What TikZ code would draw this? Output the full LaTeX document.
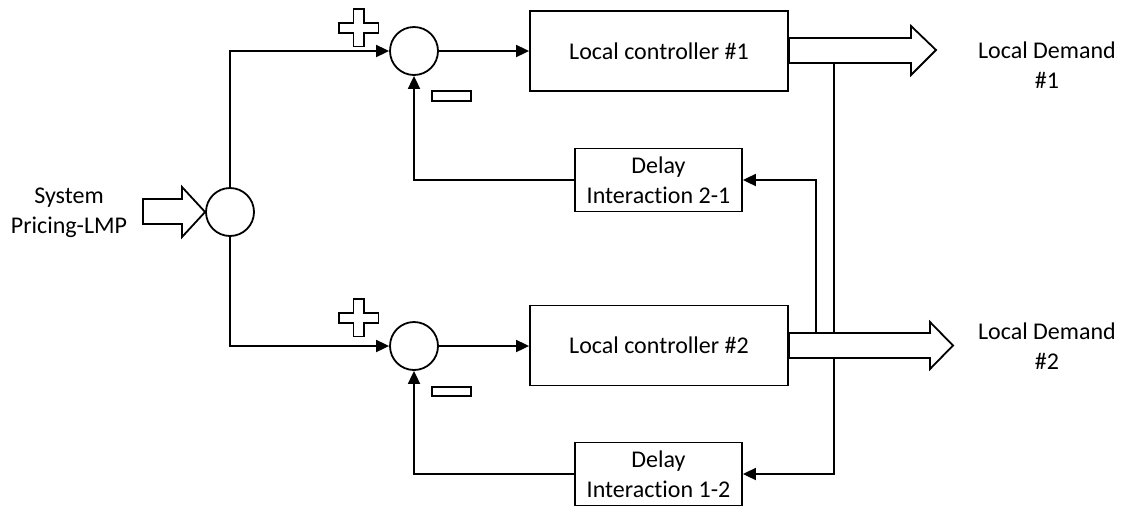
\documentclass[tikz,border=0pt]{standalone}
\usepackage{fontspec}
\setmainfont{Carlito}[Ligatures=NoCommon]
\usetikzlibrary{arrows.meta}
\tikzset{
  every node/.style={font=\fontsize{24}{30}\selectfont, inner sep=0pt},
  wire/.style={line width=1.8pt},
  arr/.style={wire, -{Triangle[length=13pt,width=12pt]}},
  sumnode/.style={circle, draw, line width=1.8pt, minimum size=48pt},
  ctrlbox/.style={draw, line width=1.8pt, minimum width=258pt, minimum height=80pt},
  delaybox/.style={draw, line width=1.8pt, minimum width=167pt, minimum height=63pt, align=center},
  lbl/.style={align=center},
  fatarrow/.style={draw, line width=1.8pt, fill=white, line join=miter},
  sign/.style={draw, line width=1.6pt, fill=white}
}
\begin{document}
\begin{tikzpicture}[x=1pt,y=-1pt]
\useasboundingbox (0,0) rectangle (1125,507);
% nodes
\node[sumnode] (sL) at (230,212) {};
\node[sumnode] (s1) at (414,51) {};
\node[sumnode] (s2) at (414,346) {};
\node[ctrlbox] (c1) at (659,51) {Local controller \#1};
\node[ctrlbox] (c2) at (659,345.5) {Local controller \#2};
\node[delaybox] (d1) at (658.5,180) {Delay\\Interaction 2-1};
\node[delaybox] (d2) at (658.5,474) {Delay\\Interaction 1-2};
\node[lbl] (tin) at (69,213) {System\\Pricing-LMP};
\node[lbl] (t1) at (1047,65) {Local Demand\\\#1};
\node[lbl] (t2) at (1047,346) {Local Demand\\\#2};
\coordinate (j1) at (834,63);
\coordinate (j2) at (816,333);
% connectors
\draw[arr] (sL.north) |- (s1.west);
\draw[arr] (sL.south) |- (s2.west);
\draw[arr] (s1.east) -- (s1.east -| c1.west);
\draw[arr] (s2.east) -- (s2.east -| c2.west);
\draw[arr] (d1.west) -| (s1.south);
\draw[arr] (d2.west) -| (s2.south);
\draw[arr] (j2) |- (d1.east);
\draw[arr] (j1) |- (d2.east);
% block arrows
\draw[fatarrow] (143,199) -- (182,199) -- (182,187) -- (sL.west) -- (182,237) -- (182,224) -- (143,224) -- cycle;
\draw[fatarrow] (c1.east |- 0,38) -- (911,38) -- (911,26) -- (936,50) -- (911,75) -- (911,63) -- (c1.east |- 0,63) -- cycle;
\draw[fatarrow] (c2.east |- 0,333) -- (930,333) -- (930,322) -- (953,345.5) -- (930,369) -- (930,358) -- (c2.east |- 0,358) -- cycle;
% signs
\draw[sign] (353.5,9) -- (364,9) -- (364,23) -- (378.5,23) -- (378.5,33) -- (364,33) -- (364,46.5) -- (353.5,46.5) -- (353.5,33) -- (339,33) -- (339,23) -- (353.5,23) -- cycle;
\draw[sign] (353.5,299) -- (364,299) -- (364,313) -- (378.5,313) -- (378.5,323) -- (364,323) -- (364,336.5) -- (353.5,336.5) -- (353.5,323) -- (339,323) -- (339,313) -- (353.5,313) -- cycle;
\draw[sign] (432,91) rectangle (471,101);
\draw[sign] (432,387) rectangle (471,396);
\end{tikzpicture}
\end{document}
